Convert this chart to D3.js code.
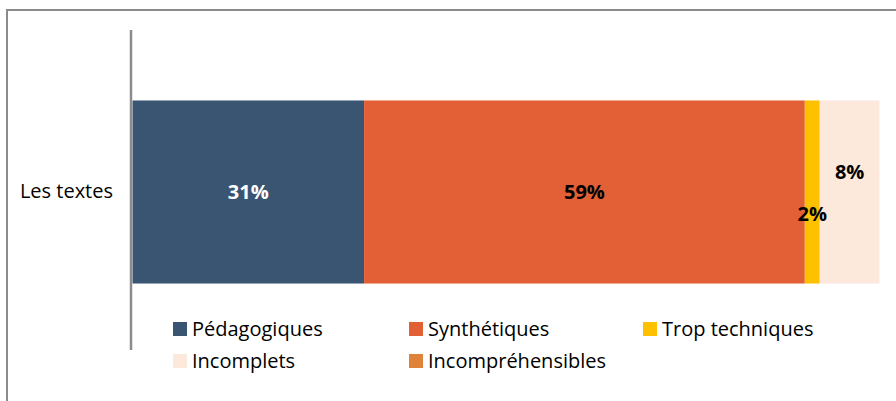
<!DOCTYPE html>
<html>
<head>
<meta charset="utf-8">
<script src="https://cdn.jsdelivr.net/npm/d3@7/dist/d3.min.js"></script>
<style>
  html, body { margin: 0; padding: 0; background: #fff; }
  svg { display: block; }
  text { font-family: "Open Sans", "Noto Sans", sans-serif; }
</style>
</head>
<body>
<svg id="chart" width="896" height="401"></svg>
<script>
// Répartition des avis sur les textes (barre empilée à 100 %)
const categories = ["Les textes"];
const seriesNames = ["Pédagogiques", "Synthétiques", "Trop techniques", "Incomplets", "Incompréhensibles"];
const seriesValues = [31, 59, 2, 8, 0];
const seriesColors = ["#3A5572", "#E35F36", "#FFC000", "#FCE9DC", "#E0833A"];
const labelColors = ["#ffffff", "#000000", "#000000", "#000000", "#000000"];

const FONT = "'Open Sans', 'Noto Sans', sans-serif";
const svg = d3.select("#chart");

// cadre extérieur
svg.append("rect")
  .attr("x", 7).attr("y", 10)
  .attr("width", 896).attr("height", 420)
  .attr("fill", "none").attr("stroke", "#8c8c8c").attr("stroke-width", 2);

const x = d3.scaleLinear().domain([0, 100]).range([132.5, 879.5]);
const y = d3.scaleBand().domain(categories).range([30, 354]).paddingInner(0).paddingOuter(0.385);

// empilement
const row = {};
seriesNames.forEach((n, i) => row[n] = seriesValues[i]);
const stack = d3.stack().keys(seriesNames)([row]);

const g = svg.append("g");
g.selectAll("rect.seg")
  .data(stack)
  .join("rect")
  .attr("class", "seg")
  .attr("x", d => x(d[0][0]))
  .attr("y", y(categories[0]))
  .attr("width", d => x(d[0][1]) - x(d[0][0]))
  .attr("height", y.bandwidth())
  .attr("fill", (d, i) => seriesColors[i]);

// étiquettes de valeur (décalées pour les petits segments)
const labelDy = [0, 0, 22, -20, 0];
const mid = y(categories[0]) + y.bandwidth() / 2;
g.selectAll("text.val")
  .data(stack.filter((d, i) => seriesValues[i] > 0))
  .join("text")
  .attr("class", "val")
  .attr("x", d => (x(d[0][0]) + x(d[0][1])) / 2)
  .attr("y", d => mid + labelDy[d.index])
  .attr("dy", "0.35em")
  .attr("text-anchor", "middle")
  .attr("font-size", 20)
  .attr("font-weight", "bold")
  .attr("fill", d => labelColors[d.index])
  .text(d => seriesValues[d.index] + "%");

// axe des catégories
const yAxis = d3.axisLeft(y).tickSize(0).tickPadding(18);
const ax = svg.append("g").attr("transform", "translate(131,0)").call(yAxis);
ax.select(".domain").attr("stroke", "#8c8c8c").attr("stroke-width", 2.5)
  .attr("d", "M0,30V350");
ax.selectAll("text").attr("font-size", 20).attr("fill", "#000")
  .style("font-family", FONT);

// légende
const legendPos = [[173, 322], [409, 322], [643, 322], [173, 354], [409, 354]];
const leg = svg.append("g").selectAll("g")
  .data(seriesNames)
  .join("g")
  .attr("transform", (d, i) => `translate(${legendPos[i][0]},${legendPos[i][1]})`);
leg.append("rect").attr("width", 14).attr("height", 14)
  .attr("fill", (d, i) => seriesColors[i]);
leg.append("text").attr("x", 19).attr("y", 7).attr("dy", "0.35em")
  .attr("font-size", 20).attr("fill", "#000").text(d => d);
</script>
</body>
</html>
